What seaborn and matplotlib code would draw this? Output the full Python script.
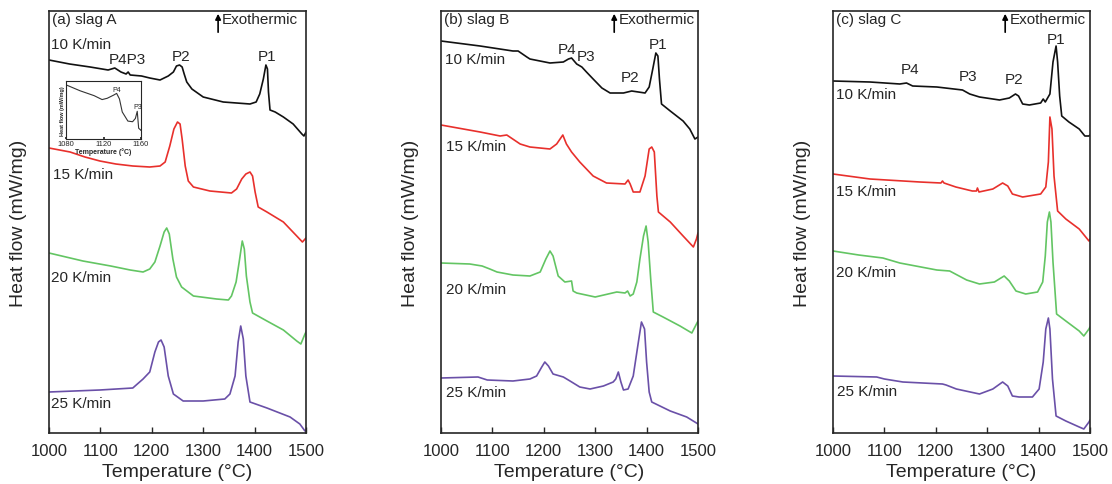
import numpy as np
import pandas as pd
import matplotlib
matplotlib.use("Agg")
import matplotlib.pyplot as plt
import seaborn as sns

# heat flow readings (arbitrary offset units)
rates = ["10 K/min", "15 K/min", "20 K/min", "25 K/min"]
colors = ["#111111", "#e8302c", "#63c563", "#6a50a8"]

# ---- slag A ----
a10_t = [1000, 1040, 1080, 1115, 1128, 1140, 1150, 1154, 1158, 1180, 1196, 1216, 1232, 1242, 1248, 1254, 1259,
         1263, 1268, 1278, 1300, 1339, 1391, 1403, 1410, 1417, 1422, 1425, 1427, 1430, 1440, 1456, 1475, 1492,
         1496, 1500]
a10_h = [373, 369, 366, 363, 365, 361, 359, 361, 358, 357, 355, 353, 357, 361, 367, 368, 366,
         359, 351, 344, 336, 331, 329, 331, 339, 354, 368, 364, 341, 323, 321, 316, 309, 299,
         297, 301]
a15_t = [1000, 1041, 1070, 1099, 1130, 1163, 1196, 1216, 1226, 1235, 1243, 1250, 1255, 1259, 1265, 1271, 1281,
         1313, 1355, 1365, 1375, 1383, 1391, 1396, 1401, 1407, 1424, 1456, 1482, 1493, 1500]
a15_h = [285, 281, 276, 272, 269, 267, 266, 267, 271, 287, 304, 311, 309, 294, 267, 252, 246,
         242, 240, 244, 254, 259, 261, 257, 241, 226, 221, 211, 197, 191, 195]
a20_t = [1000, 1066, 1120, 1158, 1183, 1196, 1206, 1216, 1224, 1229, 1234, 1241, 1248, 1258, 1281, 1326, 1349,
         1355, 1364, 1370, 1376, 1380, 1384, 1391, 1396, 1424, 1456, 1482, 1490, 1498, 1500]
a20_h = [180, 172, 167, 163, 161, 164, 171, 187, 201, 205, 199, 174, 156, 146, 137, 134, 133,
         137, 151, 171, 192, 184, 157, 131, 120, 112, 103, 92, 89, 99, 101]
a25_t = [1000, 1099, 1163, 1183, 1196, 1206, 1213, 1218, 1224, 1232, 1242, 1261, 1300, 1342, 1352, 1362, 1368,
         1373, 1378, 1383, 1391, 1424, 1469, 1488, 1498, 1500]
a25_h = [41, 43, 45, 54, 61, 81, 91, 93, 86, 57, 39, 32, 32, 34, 39, 57, 91,
         107, 94, 57, 31, 25, 16, 9, 2, 3]

# inset of slag A, 10 K/min
ins_t = [1081, 1095, 1110, 1118.5, 1124, 1131, 1134, 1137, 1140, 1146, 1151, 1154, 1156, 1157.5, 1159.5, 1160]
ins_h = [165, 148, 133, 121, 125, 135, 140, 123, 83, 55, 53, 63, 85, 33, 28, 26]

# ---- slag B ----
b10_t = [1000, 1076, 1140, 1150, 1167, 1173, 1212, 1238, 1248, 1254, 1264, 1274, 1283, 1296, 1313, 1329, 1355,
         1371, 1397, 1405, 1412, 1418, 1422, 1425, 1429, 1446, 1471, 1484, 1494, 1500]
b10_h = [392, 387, 382, 382, 376, 374, 370, 371, 374, 375, 369, 366, 361, 354, 345, 340, 340,
         342, 340, 346, 364, 380, 377, 354, 329, 322, 312, 304, 294, 296]
b15_t = [1000, 1076, 1115, 1128, 1154, 1173, 1212, 1225, 1237, 1244, 1254, 1270, 1296, 1322, 1358, 1364, 1368,
         1374, 1387, 1397, 1405, 1410, 1415, 1420, 1423, 1446, 1471, 1491, 1497, 1500]
b15_h = [308, 301, 297, 298, 289, 286, 284, 289, 298, 289, 281, 271, 257, 250, 249, 253, 249,
         241, 241, 257, 284, 286, 281, 237, 221, 211, 197, 186, 194, 200]
b20_t = [1000, 1056, 1080, 1095, 1109, 1140, 1173, 1193, 1204, 1212, 1218, 1228, 1241, 1254, 1257, 1264, 1300,
         1342, 1358, 1363, 1368, 1374, 1381, 1387, 1394, 1399, 1403, 1408, 1413, 1432, 1465, 1488, 1497, 1500]
b20_h = [170, 169, 167, 164, 161, 158, 157, 161, 174, 182, 177, 157, 151, 152, 142, 140, 136,
         141, 140, 142, 137, 139, 151, 174, 197, 207, 191, 154, 121, 116, 107, 100, 109, 112]
b25_t = [1000, 1072, 1090, 1140, 1173, 1186, 1196, 1202, 1209, 1218, 1238, 1251, 1270, 1290, 1316, 1335, 1340,
         1345, 1350, 1355, 1364, 1374, 1384, 1390, 1396, 1400, 1405, 1410, 1446, 1478, 1497, 1500]
b25_h = [55, 56, 53, 52, 54, 57, 66, 71, 67, 59, 56, 52, 46, 44, 47, 51, 54,
         61, 51, 43, 44, 57, 91, 111, 104, 71, 41, 31, 22, 16, 10, 9]

# ---- slag C ----
c10_t = [1000, 1072, 1130, 1143, 1155, 1202, 1252, 1266, 1285, 1324, 1343, 1355, 1361, 1369, 1382, 1404, 1409,
         1413, 1422, 1428, 1434, 1437, 1441, 1445, 1459, 1479, 1490, 1498, 1500]
c10_h = [352, 351, 349, 350, 347, 346, 343, 339, 336, 333, 335, 339, 337, 329, 328, 330, 334,
         331, 339, 371, 387, 371, 337, 317, 311, 304, 297, 297, 298]
c15_t = [1000, 1072, 1169, 1210, 1213, 1216, 1239, 1271, 1279, 1281, 1284, 1311, 1330, 1340, 1349, 1369, 1404,
         1414, 1419, 1422, 1426, 1430, 1437, 1453, 1479, 1498, 1500]
c15_h = [259, 254, 251, 250, 252, 250, 246, 242, 242, 245, 241, 244, 250, 247, 239, 236, 239,
         246, 271, 316, 304, 257, 222, 214, 204, 192, 194]
c20_t = [1000, 1050, 1097, 1130, 1202, 1227, 1260, 1285, 1314, 1333, 1343, 1356, 1375, 1398, 1408, 1413, 1417,
         1421, 1424, 1428, 1435, 1453, 1479, 1488, 1498, 1500]
c20_h = [182, 178, 175, 170, 163, 162, 153, 149, 151, 157, 152, 142, 139, 141, 151, 177, 211,
         221, 211, 171, 119, 112, 102, 97, 104, 106]
c25_t = [1000, 1085, 1100, 1136, 1213, 1220, 1240, 1285, 1311, 1330, 1340, 1349, 1362, 1388, 1401, 1409, 1414,
         1419, 1422, 1427, 1434, 1453, 1479, 1488, 1498, 1500]
c25_h = [57, 56, 54, 51, 49, 48, 44, 39, 44, 51, 47, 37, 36, 36, 44, 71, 104,
         115, 104, 54, 17, 12, 6, 4, 11, 13]

panels = [
    ("(a) slag A", [(a10_t, a10_h), (a15_t, a15_h), (a20_t, a20_h), (a25_t, a25_h)]),
    ("(b) slag B", [(b10_t, b10_h), (b15_t, b15_h), (b20_t, b20_h), (b25_t, b25_h)]),
    ("(c) slag C", [(c10_t, c10_h), (c15_t, c15_h), (c20_t, c20_h), (c25_t, c25_h)]),
]

# label anchors (temperature, heat flow) for each panel
rate_pos = [
    [(1003, 389), (1008, 259), (1003, 156), (1003, 30)],
    [(1008, 374), (1010, 287), (1010, 144), (1010, 41)],
    [(1005, 339), (1005, 242), (1005, 161), (1008, 42)],
]
peak_labels = [
    [("P4P3", 1152, 374), ("P2", 1257, 377), ("P1", 1424, 377)],
    [("P4", 1245, 384), ("P3", 1283, 377), ("P2", 1368, 356), ("P1", 1422, 389)],
    [("P4", 1149, 364), ("P3", 1262, 357), ("P2", 1353, 354), ("P1", 1434, 394)],
]
exo_x = [1329, 1337, 1335]

sns.set_theme(style="ticks")
plt.rcParams["font.family"] = ["Liberation Sans", "DejaVu Sans"]

fig = plt.figure(figsize=(11.12, 4.85), dpi=100)
lefts = [49 / 1112, 441 / 1112, 833 / 1112]
for i, (title, curves) in enumerate(panels):
    ax = fig.add_axes([lefts[i], 51 / 485, 257 / 1112, 422 / 485])
    for j, (t, h) in enumerate(curves):
        sns.lineplot(x=t, y=h, ax=ax, color=colors[j], linewidth=1.2, estimator=None,
                     solid_joinstyle="round")
        tx, ty = rate_pos[i][j]
        ax.text(tx, ty, rates[j], fontsize=11, va="center", ha="left")
    for lab, tx, ty in peak_labels[i]:
        ax.text(tx, ty, lab, fontsize=11, ha="center", va="center")
    ax.text(1006, 414, title, fontsize=11, va="center", ha="left")
    ax.annotate("", xy=(exo_x[i], 422), xytext=(exo_x[i], 398),
                arrowprops=dict(arrowstyle="-|>", color="black", lw=1.2, mutation_scale=8))
    ax.text(exo_x[i] + 8, 414, "Exothermic", fontsize=11, va="center", ha="left")
    ax.set_xlim(1000, 1500)
    ax.set_ylim(0, 422)
    ax.set_xticks([1000, 1100, 1200, 1300, 1400, 1500])
    ax.set_yticks([])
    ax.tick_params(axis="x", labelsize=12, length=4, width=1, direction="in", pad=7)
    ax.set_xlabel("Temperature (°C)", fontsize=14)
    ax.set_ylabel("Heat flow (mW/mg)", fontsize=14, labelpad=16)
    for s in ax.spines.values():
        s.set_linewidth(1.2)

# inset for slag A
ins = fig.add_axes([66 / 1112, 345 / 485, 75 / 1112, 58 / 485])
sns.lineplot(x=ins_t, y=ins_h, ax=ins, color="#333333", linewidth=0.8, estimator=None)
ins.set_xlim(1080, 1160)
ins.set_ylim(0, 178)
ins.set_xticks([1080, 1120, 1160])
ins.set_yticks([])
ins.tick_params(axis="x", labelsize=5.5, length=1.5, direction="in", pad=1)
ins.set_xlabel("Temperature (°C)", fontsize=5, fontweight="bold", labelpad=0)
ins.set_ylabel("Heat flow (mW/mg)", fontsize=4, fontweight="bold", labelpad=1)
ins.text(1134, 142, "P4", fontsize=5, ha="center", va="bottom")
ins.text(1156, 88, "P3", fontsize=5, ha="center", va="bottom")
for s in ins.spines.values():
    s.set_linewidth(0.8)

fig.savefig("out.png", dpi=100)
